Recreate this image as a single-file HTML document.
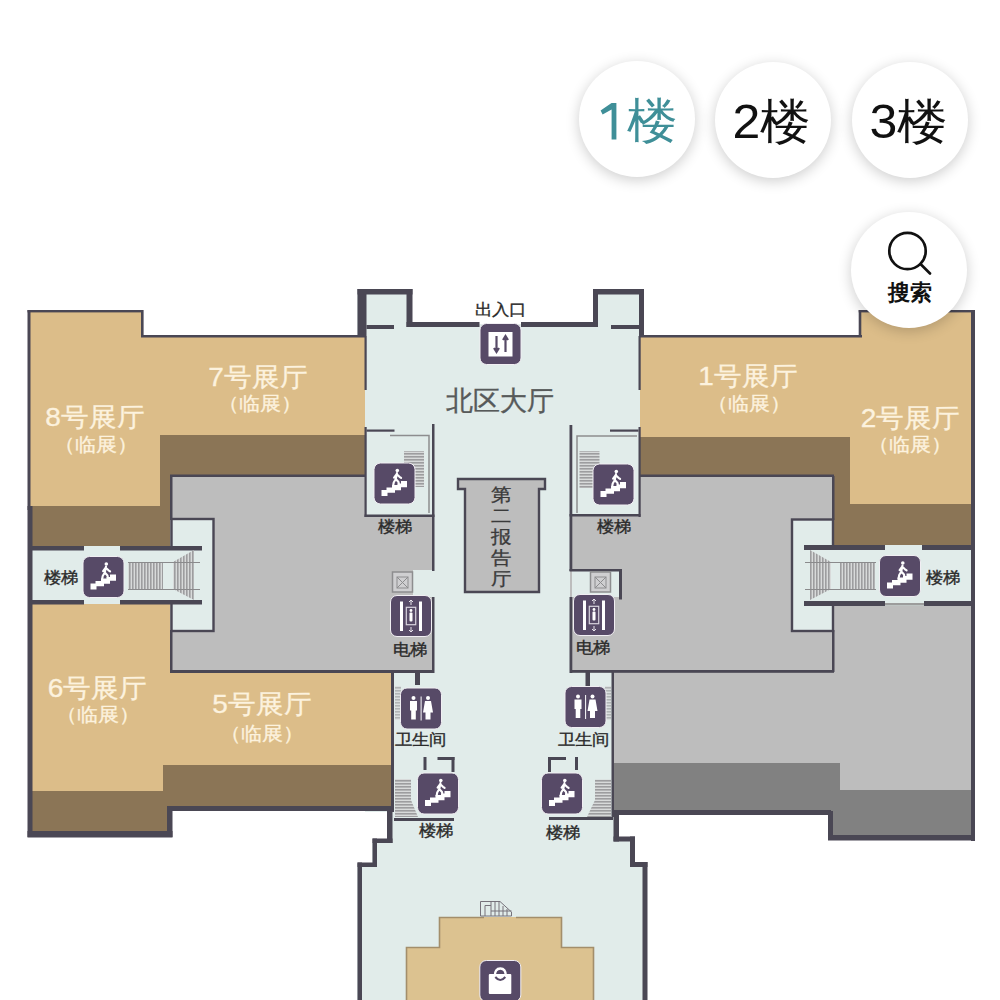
<!DOCTYPE html>
<html><head><meta charset="utf-8">
<style>
html,body{margin:0;padding:0;background:#fff;width:1000px;height:1000px;overflow:hidden}
body{position:relative;font-family:"Liberation Sans",sans-serif}
svg{position:absolute;left:0;top:0}
.t{position:absolute;line-height:1;white-space:nowrap;transform:translateX(-50%);-webkit-text-stroke:0.35px currentColor}
.ex{color:#fcf2de;font-size:28px;transform:translateX(-50%) scaleY(0.94);transform-origin:50% 0}
.ex2{color:#fcf2de;font-size:21px;transform:translateX(-50%) scaleY(0.9);transform-origin:50% 0}
.lb{color:#2a2a2a;font-size:17px;transform:translateX(-50%) scaleY(0.92);transform-origin:50% 0}
.fb{position:absolute;width:116px;height:116px;border-radius:50%;background:#fff;box-shadow:0 3px 14px rgba(0,0,0,0.2)}
</style></head><body>
<svg width="1000" height="1000" viewBox="0 0 1000 1000">
<defs>
<g id="ic-stair">
<rect x="0.5" y="0.5" width="41" height="41" rx="6.5" fill="#574a67" stroke="#f1eef3" stroke-width="1"/>
<polygon fill="#fff" points="8,33.5 8,27.5 13,27.5 13,25 18.5,25 18.5,22.5 24,22.5 24,21 27.5,21 27.5,18.5 33.5,18.5 33.5,24.8 27.5,24.8 27.5,27.8 21.5,27.8 21.5,30.3 14,30.3 14,33.5"/>
<circle cx="23.8" cy="8" r="1.8" fill="#fff"/>
<path d="M23.5 10.5 L22.3 16.5 L20.2 20 L19.6 23.5 M22.3 16.5 L25 19.5 L25.5 22.5 M23.3 11.8 L26 14.3 L27.6 15.4 M23 12 L20.6 15.2" stroke="#fff" stroke-width="2.1" fill="none" stroke-linecap="round" stroke-linejoin="round"/>
</g>
<g id="ic-elev">
<rect x="0.5" y="0.5" width="41" height="41" rx="6.5" fill="#574a67" stroke="#f1eef3" stroke-width="1"/>
<rect x="10" y="6.5" width="3" height="29.5" fill="#fff"/>
<rect x="29" y="6.5" width="3" height="29.5" fill="#fff"/>
<rect x="16.3" y="12.3" width="9.4" height="17.4" fill="none" stroke="#d9d4de" stroke-width="1.2"/>
<circle cx="21" cy="15.5" r="1.4" fill="#fff"/>
<rect x="19.5" y="17.5" width="3" height="9" rx="1" fill="#fff"/>
<path d="M21 5 V10 M19 7 L21 5 L23 7 M21 32 V37 M19 35 L21 37 L23 35" stroke="#e8e4ec" stroke-width="1" fill="none"/>
</g>
<g id="ic-wc">
<rect x="0.5" y="0.5" width="41" height="41" rx="6.5" fill="#574a67" stroke="#f1eef3" stroke-width="1"/>
<circle cx="13.5" cy="10.5" r="2" fill="#fff"/>
<path d="M10 13.5 H17 V23 H15.8 V32 H11.2 V23 H10 Z" fill="#fff"/>
<rect x="20.6" y="9" width="1" height="24" fill="#fff"/>
<circle cx="28" cy="10.5" r="2" fill="#fff"/>
<path d="M25 13.5 H31 L33 25 H30.5 V32 H25.5 V25 H23 Z" fill="#fff"/>
</g>
<g id="ic-exit">
<rect x="0.5" y="0.5" width="41" height="41" rx="6.5" fill="#574a67" stroke="#f1eef3" stroke-width="1"/>
<rect x="9" y="9" width="24" height="24.5" fill="#fff"/>
<path d="M17 13 V28 M14.5 25 L17 29 L19.5 25 M26 29 V14 M23.5 17 L26 13 L28.5 17" stroke="#574a67" stroke-width="2.2" fill="none"/>
</g>
<g id="ic-shop">
<rect x="0.5" y="0.5" width="41" height="41" rx="6.5" fill="#574a67" stroke="#f1eef3" stroke-width="1"/>
<path d="M15.5 16 Q15.5 8.5 21 8.5 Q26.5 8.5 26.5 16" stroke="#fff" stroke-width="2.4" fill="none"/>
<rect x="9.5" y="14" width="22.5" height="20" rx="1" fill="#fff"/>
<path d="M16 17 Q21 23 26 17" stroke="#574a67" stroke-width="2" fill="none"/>
</g>
<pattern id="hv" width="3" height="3" patternUnits="userSpaceOnUse"><rect width="3" height="3" fill="#d8dada"/><rect width="1.6" height="3" fill="#9d9d9f"/></pattern>
<pattern id="hh" width="3" height="3" patternUnits="userSpaceOnUse"><rect width="3" height="3" fill="#d8dada"/><rect width="3" height="1.6" fill="#9d9d9f"/></pattern>
</defs>
<!-- central hall -->
<polygon fill="#e1ecea" points="357,289 412,289 412,324 594,324 594,289 644,289 644,670 614,670 614,839 632,839 632,864 645,864 645,1000 357,1000 357,864 372,864 372,842 392,842 392,812 365,812 365,336 357,336"/>

<!-- LEFT UPPER -->
<polygon fill="#dcbd89" points="29,311 142,311 142,336 365,336 365,435 160,435 160,506 29,506"/>
<polygon fill="#8b7556" points="160,435 365,435 365,476 170,476 170,546 29,546 29,506 160,506"/>
<polygon fill="#bdbdbd" points="170,476 365,476 365,516 434,516 434,672 170,672"/>
<!-- left corridor -->
<rect x="29" y="546" width="145" height="58" fill="#e1ecea"/>
<rect x="171.5" y="519" width="42" height="112" fill="#e1ecea" stroke="#4a4754" stroke-width="2.4"/>
<rect x="169.5" y="549" width="33" height="52" fill="#e1ecea"/>
<!-- LEFT LOWER -->
<polygon fill="#dcbd89" points="29,604 170,604 170,672 392,672 392,765 163,765 163,791 29,791"/>
<polygon fill="#8b7556" points="163,765 392,765 392,808 170,808 170,833 29,833 29,791 163,791"/>

<!-- RIGHT UPPER -->
<polygon fill="#dcbd89" points="640,336 860,336 860,311 972,311 972,504 850,504 850,437 640,437"/>
<polygon fill="#8b7556" points="640,437 850,437 850,504 972,504 972,545 834,545 834,476 640,476"/>
<polygon fill="#bdbdbd" points="570,516 640,516 640,476 834,476 834,672 570,672"/>
<rect x="613" y="670" width="359" height="93" fill="#bdbdbd"/>
<rect x="834" y="604" width="138" height="187" fill="#bdbdbd"/>
<polygon fill="#818181" points="613,763 840,763 840,790 972,790 972,838 830,838 830,812 613,812"/>
<!-- right corridor -->
<rect x="834" y="545" width="138" height="61" fill="#e1ecea"/>
<rect x="792" y="519.5" width="41" height="111.5" fill="#e1ecea" stroke="#4a4754" stroke-width="2.4"/>
<rect x="803" y="549" width="32.5" height="53" fill="#e1ecea"/>

<!-- notches near elevators -->
<rect x="413" y="570" width="21" height="27" fill="#e1ecea"/>
<rect x="572" y="571" width="47" height="26" fill="#e1ecea"/>

<!-- report hall -->
<polygon fill="#bdbdbd" stroke="#4a4754" stroke-width="2.4" points="458,479 545,479 545,489 539,489 539,592 465,592 465,489 458,489"/>

<!-- bottom shop -->
<polygon fill="#dcc290" points="439,917 562,917 562,947 594,947 594,1001 406,1001 406,947 439,947"/>
<path d="M484 917.5 H439.5 V947.5 H406.5 V1001 M516 917.5 H561.5 V947.5 H593.5 V1001" fill="none" stroke="#a38e6b" stroke-width="1.6"/>

<!-- WALLS -->
<g fill="#4a4754">
<!-- left outer -->
<rect x="27.5" y="310" width="115" height="2.4"/>
<rect x="141" y="310" width="2.6" height="27"/>
<rect x="141" y="335" width="224" height="2.5"/>
<rect x="27.5" y="310" width="3" height="200"/>
<rect x="27.5" y="506" width="5" height="331"/>
<rect x="27.5" y="831" width="145" height="6.5"/>
<rect x="167" y="806" width="5.5" height="31"/>
<rect x="167" y="806" width="225" height="5"/>
<!-- left corridor walls -->
<rect x="31" y="546" width="53" height="4.5"/>
<rect x="120" y="546" width="82" height="4.5"/>
<rect x="31" y="600" width="53" height="4.5"/>
<rect x="120" y="600" width="82" height="4.5"/>
<rect x="170" y="476" width="2.5" height="44"/>
<rect x="170" y="630" width="2.5" height="42"/>
<rect x="170" y="474.5" width="195" height="2.5"/>
<rect x="170" y="670" width="264" height="3"/>
<!-- hall left -->
<rect x="357.5" y="289" width="9" height="47"/>
<rect x="357.5" y="289" width="55" height="5.5"/>
<rect x="406.5" y="289" width="6" height="38"/>
<rect x="406.5" y="322" width="73" height="5"/>
<rect x="521" y="322" width="77" height="5"/>
<rect x="366.5" y="325" width="27.5" height="4"/>
<rect x="364.5" y="336" width="2.2" height="54"/><rect x="364.5" y="427" width="2.2" height="90"/>
<rect x="364.5" y="514.5" width="70" height="2.5"/>
<rect x="366.5" y="429.5" width="28" height="2.2"/>
<rect x="432" y="424" width="2.5" height="147"/>
<rect x="432" y="597" width="2.5" height="76"/>
<rect x="391" y="672" width="3" height="140"/>
<rect x="415" y="671" width="5" height="14"/>
<rect x="387" y="808" width="5.5" height="35"/>
<rect x="372.5" y="838.5" width="20" height="4.5"/>
<rect x="372.5" y="838.5" width="4.5" height="28.5"/>
<rect x="357.5" y="862.5" width="19.5" height="4.5"/>
<rect x="357.5" y="862.5" width="4.5" height="138"/>
<rect x="394" y="818" width="60" height="3"/>
<rect x="423.5" y="757" width="3" height="13"/>
<rect x="451.5" y="757" width="3" height="15"/>
<rect x="437.5" y="757" width="17" height="3"/>
<!-- hall right -->
<rect x="593" y="289" width="5" height="38"/>
<rect x="593" y="289" width="51" height="5.5"/>
<rect x="639" y="289" width="5" height="48"/>
<rect x="611" y="325" width="29" height="4"/>
<rect x="638.5" y="336" width="2.2" height="54"/><rect x="638.5" y="427" width="2.2" height="90"/>
<rect x="569.5" y="514" width="71" height="2.5"/>
<rect x="610" y="429.5" width="28.5" height="2.2"/>
<rect x="569.5" y="425" width="2.8" height="146"/>
<rect x="569.5" y="569" width="52.5" height="2.5"/>
<rect x="619" y="569" width="3" height="30.5"/>
<rect x="569.5" y="597" width="2.8" height="76"/>
<rect x="570" y="670" width="264" height="2.8"/>
<rect x="585.5" y="671" width="4.5" height="15"/>
<rect x="611.5" y="670" width="2.5" height="147"/>
<rect x="549" y="817" width="64" height="3"/>
<rect x="548" y="757" width="3" height="15"/>
<rect x="575" y="757" width="3" height="13"/>
<rect x="549" y="757" width="17" height="3"/>
<rect x="613" y="810" width="218" height="5"/>
<rect x="613.5" y="810" width="5.5" height="31.5"/>
<rect x="613.5" y="836.5" width="21.5" height="5"/>
<rect x="630" y="836.5" width="5" height="30.5"/>
<rect x="630" y="862" width="17.5" height="5"/>
<rect x="642.5" y="862" width="5" height="138"/>
<!-- right outer -->
<rect x="640" y="335" width="222" height="2.5"/>
<rect x="858.7" y="310" width="2.6" height="27"/>
<rect x="858.7" y="310" width="116.3" height="2.4"/>
<rect x="971" y="310" width="4" height="531"/>
<rect x="828" y="835" width="147" height="5.5"/>
<rect x="828" y="811" width="5" height="29"/>
<rect x="640" y="474.5" width="194" height="2.5"/>
<rect x="832" y="476" width="2.5" height="44"/>
<rect x="832" y="630" width="2.5" height="42"/>
<rect x="804" y="545" width="81" height="5"/>
<rect x="922" y="545" width="49" height="5"/>
<rect x="804" y="601" width="81" height="5"/>
<rect x="924" y="601" width="48" height="5"/>
</g>

<!-- stair hatches -->
<rect x="885" y="603" width="39" height="2.5" fill="#9c9c9c"/>
<rect x="128" y="563" width="35" height="26" fill="url(#hv)"/>
<polygon points="173,562 194,550 194,600 173,589" fill="url(#hv)"/><path d="M128 562.5 H200 M128 589.5 H200" stroke="#8a8a8c" stroke-width="1"/>
<rect x="840" y="552" width="35" height="48" fill="none"/>
<rect x="840" y="563" width="35" height="26" fill="url(#hv)"/>
<polygon points="831,562 810,550 810,600 831,589" fill="url(#hv)"/><path d="M805 562.5 H876 M805 589.5 H876" stroke="#8a8a8c" stroke-width="1"/>
<rect x="404" y="451" width="20" height="36" fill="url(#hh)"/>
<rect x="579.5" y="451" width="20" height="37" fill="url(#hh)"/>
<polygon points="395,779 411,779 411,800 418,817 395,817" fill="url(#hh)"/>
<polygon points="611,779.5 595,779.5 595,800 587,817 611,817" fill="url(#hh)"/>
<rect x="395" y="686" width="6" height="34" fill="url(#hh)" opacity="0.7"/>
<rect x="605" y="686" width="6" height="34" fill="url(#hh)" opacity="0.7"/>
<g fill="none" stroke="#76727b" stroke-width="1"><path d="M480.5 916 V901.5 H500 L511.5 912 V916 Z"/><path d="M485 905.5 H491 M485 905.5 V916 M491 901.5 V916 M495 901.5 V916 M499 901.5 V916 M503 906 V916 M507 909 V916 M491 911 H511.5"/></g>
<!-- railings -->
<path d="M390 435.5 H429 V513" stroke="#8d8d8f" stroke-width="1.5" fill="none"/>
<path d="M637 436 H577 V513" stroke="#8d8d8f" stroke-width="1.5" fill="none"/>
<!-- small elevator boxes -->
<g stroke="#8d8d8f" stroke-width="1.5" fill="#cfcfd1">
<rect x="392.5" y="572" width="20" height="20"/>
<rect x="590.5" y="572" width="20" height="20"/>
</g>
<g stroke="#8d8d8f" stroke-width="1" fill="none">
<rect x="397" y="577" width="11" height="11"/><path d="M397 577 L408 588 M408 577 L397 588"/>
<rect x="595" y="577" width="11" height="11"/><path d="M595 577 L606 588 M606 577 L595 588"/>
</g>
<!-- icons -->
<use href="#ic-stair" x="373.5" y="462.5"/>
<use href="#ic-stair" x="592.5" y="463.5"/>
<use href="#ic-stair" x="82.5" y="556"/>
<use href="#ic-stair" x="879" y="555"/>
<use href="#ic-stair" x="417" y="772.5"/>
<use href="#ic-stair" x="541" y="772.5"/>
<use href="#ic-elev" x="390" y="595"/>
<use href="#ic-elev" x="573" y="594"/>
<use href="#ic-wc" x="400" y="687.5"/>
<use href="#ic-wc" x="564.5" y="686"/>
<use href="#ic-exit" x="479.5" y="323"/>
<use href="#ic-shop" x="479.3" y="960"/>
</svg>
<!-- labels -->
<div class="t ex" style="left:95px;top:404px">8号展厅</div>
<div class="t ex2" style="left:96px;top:435px">（临展）</div>
<div class="t ex" style="left:258px;top:364px">7号展厅</div>
<div class="t ex2" style="left:260px;top:394px">（临展）</div>
<div class="t ex" style="left:748px;top:362.5px">1号展厅</div>
<div class="t ex2" style="left:749px;top:394px">（临展）</div>
<div class="t ex" style="left:910.5px;top:404.5px">2号展厅</div>
<div class="t ex2" style="left:910px;top:435px">（临展）</div>
<div class="t ex" style="left:97.5px;top:674.5px">6号展厅</div>
<div class="t ex2" style="left:98px;top:705px">（临展）</div>
<div class="t ex" style="left:262px;top:691px">5号展厅</div>
<div class="t ex2" style="left:262px;top:723.8px">（临展）</div>
<div class="t" style="left:499.5px;top:386.5px;font-size:27.3px;color:#575a5a">北区大厅</div>
<div class="t" style="left:501.6px;top:483.7px;font-size:21px;line-height:24px;color:#3a3a3a;text-align:center;transform:translateX(-50%) scaleY(0.88);transform-origin:50% 0">第<br>二<br>报<br>告<br>厅</div>
<div class="t lb" style="left:500px;top:301.5px">出入口</div>
<div class="t lb" style="left:395px;top:518.5px">楼梯</div>
<div class="t lb" style="left:613.5px;top:519px">楼梯</div>
<div class="t lb" style="left:60.5px;top:569.5px">楼梯</div>
<div class="t lb" style="left:943px;top:570px">楼梯</div>
<div class="t lb" style="left:436px;top:822.8px">楼梯</div>
<div class="t lb" style="left:563px;top:824.5px">楼梯</div>
<div class="t lb" style="left:409.5px;top:641.5px">电梯</div>
<div class="t lb" style="left:593.2px;top:639.5px">电梯</div>
<div class="t lb" style="left:420.7px;top:731.5px">卫生间</div>
<div class="t lb" style="left:583.8px;top:731.5px">卫生间</div>
<!-- floor buttons -->
<div class="fb" style="left:579px;top:61px"></div>
<div class="fb" style="left:715px;top:61.5px"></div>
<div class="fb" style="left:851.5px;top:61.5px"></div>
<div class="fb" style="left:851px;top:211.7px"></div>
<svg width="1000" height="200" style="position:absolute;left:0;top:0"><polygon fill="#3f8f98" points="611.6,103 616.4,103 616.4,139.6 611.6,139.6 611.6,109.6 602.6,114.6 600.6,110.6 610.8,103.6"/></svg>
<div style="position:absolute;left:627.2px;top:96.8px;font-size:50px;line-height:1;color:#3f8f98;white-space:nowrap;transform:scaleY(0.95);transform-origin:0 0">楼</div>
<div style="position:absolute;left:732.5px;top:97.8px;font-size:50px;line-height:1;color:#111;white-space:nowrap;transform:scaleY(0.95);transform-origin:0 0">2楼</div>
<div style="position:absolute;left:869.5px;top:97.8px;font-size:50px;line-height:1;color:#111;white-space:nowrap;transform:scaleY(0.95);transform-origin:0 0">3楼</div>
<svg width="1000" height="1000" style="pointer-events:none">
<circle cx="907.5" cy="251" r="18.2" fill="none" stroke="#111" stroke-width="2.7"/>
<path d="M920.5 264 L930 273.5" stroke="#111" stroke-width="2.7" stroke-linecap="round"/>
</svg>
<div style="position:absolute;left:888px;top:282px;font-size:22px;font-weight:bold;line-height:1;color:#111;white-space:nowrap">搜索</div>
</body></html>
